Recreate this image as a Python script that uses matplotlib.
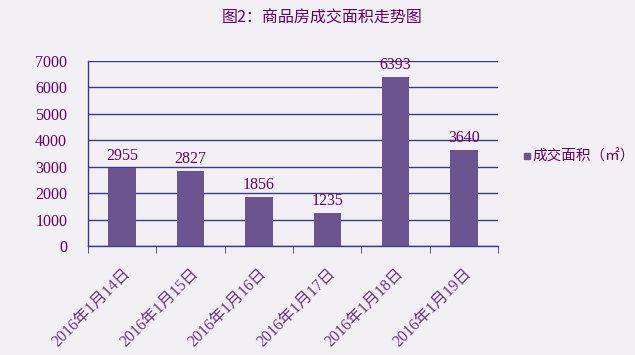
import numpy as np
import matplotlib.pyplot as plt

plt.rcParams['font.family'] = ['Liberation Serif', 'Noto Sans CJK SC', 'DejaVu Sans']

# data
dates = ['2016年1月14日', '2016年1月15日', '2016年1月16日',
         '2016年1月17日', '2016年1月18日', '2016年1月19日']
area = [2955, 2827, 1856, 1235, 6393, 3640]
yticks = [0, 1000, 2000, 3000, 4000, 5000, 6000, 7000]

bg = '#f3f0f5'
bar_c = '#6b5490'
line_c = '#3a3a8c'
txt_c = '#660066'

fig = plt.figure(figsize=(6.35, 3.55), dpi=100, facecolor=bg)
ax = fig.add_axes([88/635, 1-246/355, 410/635, 185/355], facecolor=bg)

x = np.arange(len(dates))
ax.bar(x, area, width=0.4, color=bar_c, zorder=3)
for xi, v in zip(x, area):
    ax.text(xi, v + 150, str(v), ha='center', va='bottom', fontsize=11.5,
            color=txt_c, zorder=4, clip_on=False)

ax.set_xlim(-0.5, len(dates) - 0.5)
ax.set_ylim(0, 7000)
ax.set_yticks(yticks)
ax.set_yticklabels([str(t) for t in yticks], fontsize=11.5, color=txt_c)
ax.yaxis.grid(True, color=line_c, linewidth=1, zorder=1)
ax.tick_params(axis='y', length=0, pad=15)

ax.set_xticks(x)
ax.set_xticklabels(dates, rotation=45, ha='right', rotation_mode='anchor',
                   fontsize=11.5, color='#6a3585')
ax.set_xticks(np.arange(-0.5, len(dates)), minor=True)
ax.tick_params(axis='x', which='major', length=0, pad=14)
ax.tick_params(axis='x', which='minor', length=5, color=line_c, direction='out')

for s in ['top', 'right']:
    ax.spines[s].set_visible(False)
for s in ['left', 'bottom']:
    ax.spines[s].set_color(line_c)
    ax.spines[s].set_linewidth(1)

fig.text(322/635, 1-18/355, '图2：商品房成交面积走势图', ha='center', va='center',
         fontsize=11.5, color=txt_c, family=['Noto Sans CJK SC', 'DejaVu Sans'])

# legend
fig.patches.append(plt.Rectangle((524/635, 1-159/355), 6/635, 6/355,
                                 transform=fig.transFigure, color=bar_c))
fig.text(532/635, 1-156/355, '成交面积（㎡）', ha='left', va='center',
         fontsize=10.5, color=txt_c, family=['Noto Sans CJK SC', 'DejaVu Sans'])

fig.savefig('out.png', dpi=100, facecolor=bg)
